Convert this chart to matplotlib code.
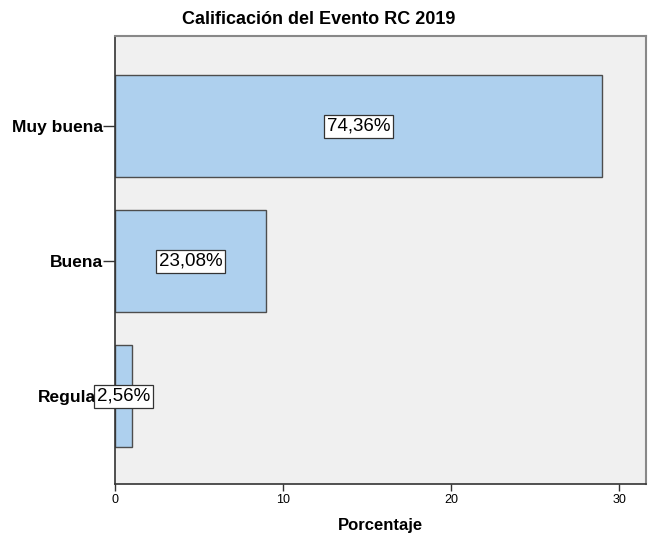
import matplotlib
matplotlib.use("Agg")
import matplotlib.pyplot as plt

categorias = ["Muy buena", "Buena", "Regular"]
valores = [29, 9, 1]
etiquetas = ["74,36%", "23,08%", "2,56%"]
ticks_x = [0, 10, 20, 30]

plt.rcParams['font.family'] = ['Liberation Sans', 'DejaVu Sans']

fig = plt.figure(figsize=(6.51, 5.36), dpi=100)
ax = fig.add_axes([115/651, 1 - 484/536, (646-115)/651, (484-36)/536])
ax.set_facecolor("#f0f0f0")

pos = list(range(len(categorias)))
ax.barh(pos, valores, height=0.755, color="#aed0ee", edgecolor="#4d4d4d", linewidth=1, zorder=2)

# etiquetas de porcentaje en el centro de cada barra
for p, v, t in zip(pos, valores, etiquetas):
    ax.text(v / 2, p, t, ha="center", va="center", fontsize=13.5, zorder=10, clip_on=False,
            bbox=dict(boxstyle="square,pad=0.16", facecolor="white", edgecolor="#333333", linewidth=0.9))

ax.set_xlim(0, 31.6)
ax.set_ylim(2.65, -0.667)
ax.set_yticks(pos)
ax.set_yticklabels(categorias, fontsize=12.5, fontweight="bold")
ax.set_xticks(ticks_x)
ax.set_xticklabels([str(t) for t in ticks_x], fontsize=9)
ax.tick_params(axis="y", length=8.6, width=1, color="#333333", pad=0)
ax.tick_params(axis="x", length=5, width=1, color="#333333", pad=2)

for s in ["left", "bottom"]:
    ax.spines[s].set_color("#333333")
    ax.spines[s].set_linewidth(1.2)
for s in ["top", "right"]:
    ax.spines[s].set_color("#888888")
    ax.spines[s].set_linewidth(1.5)

ax.set_xlabel("Porcentaje", fontsize=12, fontweight="bold", labelpad=9)
fig.text(319/651, 1 - 20/536, "Calificación del Evento RC 2019", ha="center", va="center",
         fontsize=13, fontweight="bold")

fig.savefig("out.png", dpi=100)
